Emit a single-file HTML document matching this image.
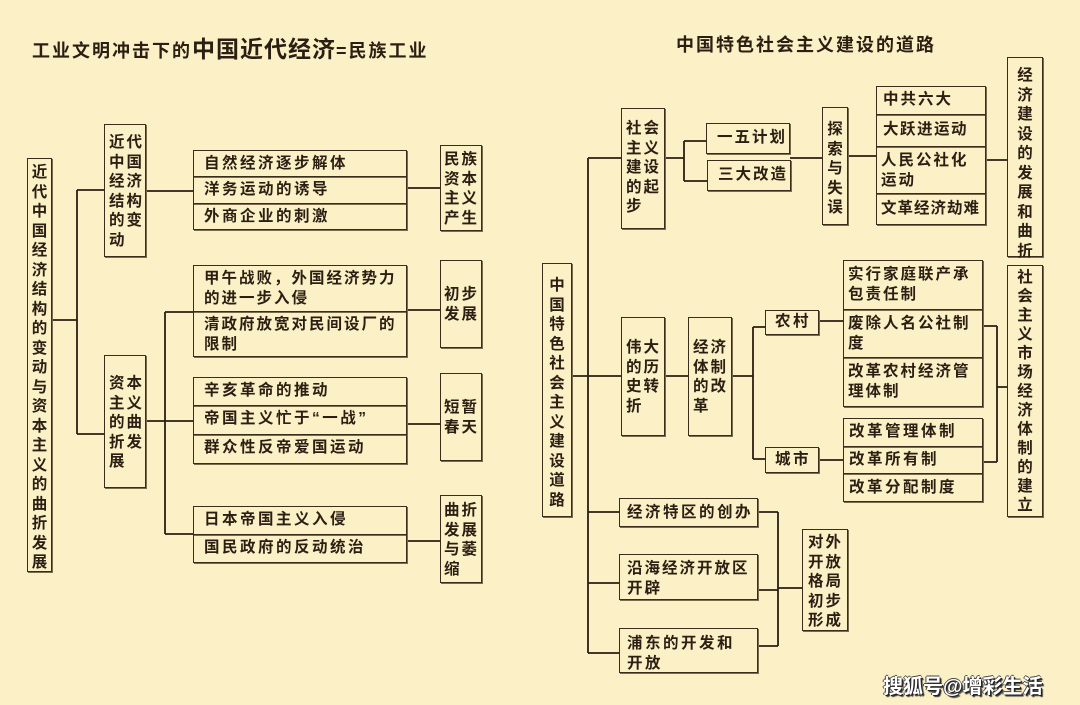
<!DOCTYPE html>
<html><head><meta charset="utf-8"><style>
html,body{margin:0;padding:0}
body{width:1080px;height:705px;background:#fcf0c6;position:relative;overflow:hidden;font-family:"Liberation Sans","Noto Sans CJK SC",sans-serif;color:#2a1f12}
.b{position:absolute;box-sizing:border-box;border:1.5px solid #3b2c1c;box-shadow:1px 1px 0 #7a6a50;font-size:15.5px;font-weight:bold;line-height:19.5px;letter-spacing:2px;white-space:nowrap}
.h{padding:3px 0 0 10px;letter-spacing:2.5px}
.v{text-align:center;letter-spacing:0;padding-top:6px}
.t{position:absolute;font-weight:bold;white-space:nowrap}
svg{position:absolute;left:0;top:0}
</style></head><body>
<svg width="1080" height="705" stroke="#2a1f12" fill="none" stroke-width="1.8">
<path d="M51 320H77M77 190V434M77 190H104M77 434H104"/>
<path d="M145 191H193"/>
<path d="M145 421H165M165 312V534M165 312H193M165 421H193M165 534H193"/>
<path d="M406 188H440M406 310H440M406 424H440M406 541H440"/>
<path d="M572 376H621M588 158V653M588 158H621M588 512H619M588 583H619M588 653H619"/>
<path d="M665 158H684M684 141V181M684 141H706M684 181H707"/>
<path d="M790 158H822M847 156H876M985 160H1007"/>
<path d="M665 376H688M732 376H753M753 327V459M753 327H765M753 459H765"/>
<path d="M818 321H843M818 460H843"/>
<path d="M982 326H997M997 326V462M982 462H997M997 387H1007"/>
<path d="M757 512H778M757 590H778M757 646H778M778 512V646M778 588H802"/>
</svg>

<div class="t" style="left:32px;top:30px;font-size:18px;letter-spacing:2px">工业文明冲击下的<span style="font-size:23px;letter-spacing:1px">中国近代经济</span>=民族工业</div>
<div class="t" style="left:676px;top:31px;font-size:18px;letter-spacing:2px">中国特色社会主义建设的道路</div>

<div class="b v" style="left:27px;top:158px;width:25px;height:414px;padding-top:4px">近<br>代<br>中<br>国<br>经<br>济<br>结<br>构<br>的<br>变<br>动<br>与<br>资<br>本<br>主<br>义<br>的<br>曲<br>折<br>发<br>展</div>
<div class="b" style="left:104px;top:124px;width:42px;height:133px;padding:8px 0 0 4px">近代<br>中国<br>经济<br>结构<br>的变<br>动</div>
<div class="b" style="left:104px;top:355px;width:42px;height:133px;padding:18px 0 0 4px">资本<br>主义<br>的曲<br>折发<br>展</div>

<div class="b h" style="left:193px;top:150px;width:214px;height:27px">自然经济逐步解体</div>
<div class="b h" style="left:193px;top:176px;width:214px;height:28px">洋务运动的诱导</div>
<div class="b h" style="left:193px;top:203px;width:214px;height:27px">外商企业的刺激</div>
<div class="b" style="left:440px;top:145px;width:42px;height:86px;padding:4px 0 0 3px">民族<br>资本<br>主义<br>产生</div>

<div class="b h" style="left:193px;top:265px;width:214px;height:47px;padding-top:3px;letter-spacing:2px">甲午战败，外国经济势力<br>的进一步入侵</div>
<div class="b h" style="left:193px;top:311px;width:214px;height:46px;padding-top:3px;letter-spacing:2px">清政府放宽对民间设厂的<br>限制</div>
<div class="b" style="left:440px;top:260px;width:42px;height:88px;padding:24px 0 0 3px">初步<br>发展</div>

<div class="b h" style="left:193px;top:377px;width:214px;height:29px">辛亥革命的推动</div>
<div class="b h" style="left:193px;top:405px;width:214px;height:30px">帝国主义忙于“一战”</div>
<div class="b h" style="left:193px;top:434px;width:214px;height:30px">群众性反帝爱国运动</div>
<div class="b" style="left:440px;top:373px;width:42px;height:88px;padding:24px 0 0 3px">短暂<br>春天</div>

<div class="b h" style="left:193px;top:506px;width:214px;height:29px">日本帝国主义入侵</div>
<div class="b h" style="left:193px;top:534px;width:214px;height:29px">国民政府的反动统治</div>
<div class="b" style="left:440px;top:495px;width:42px;height:88px;padding:5px 0 0 3px">曲折<br>发展<br>与萎<br>缩</div>

<div class="b v" style="left:542px;top:263px;width:30px;height:254px;padding-top:12px">中<br>国<br>特<br>色<br>社<br>会<br>主<br>义<br>建<br>设<br>道<br>路</div>
<div class="b" style="left:621px;top:108px;width:44px;height:121px;padding:10px 0 0 4px">社会<br>主义<br>建设<br>的起<br>步</div>
<div class="b h" style="left:706px;top:123px;width:84px;height:31px;padding:4px 0 0 10px;letter-spacing:2px">一五计划</div>
<div class="b h" style="left:707px;top:160px;width:84px;height:31px;padding:4px 0 0 10px;letter-spacing:2px">三大改造</div>
<div class="b v" style="left:822px;top:107px;width:26px;height:118px;padding-top:12px">探<br>索<br>与<br>失<br>误</div>
<div class="b h" style="left:876px;top:86px;width:110px;height:29px;padding-left:6px;letter-spacing:2px">中共六大</div>
<div class="b h" style="left:876px;top:114px;width:110px;height:33px;padding:5px 0 0 6px;letter-spacing:1.5px">大跃进运动</div>
<div class="b h" style="left:876px;top:146px;width:110px;height:48px;padding:4px 0 0 4px;letter-spacing:2px">人民公社化<br>运动</div>
<div class="b h" style="left:876px;top:193px;width:110px;height:32px;padding:5px 0 0 4px;letter-spacing:1px">文革经济劫难</div>
<div class="b v" style="left:1007px;top:57px;width:36px;height:200px;padding-top:8px">经<br>济<br>建<br>设<br>的<br>发<br>展<br>和<br>曲<br>折</div>

<div class="b" style="left:621px;top:317px;width:44px;height:119px;padding:20px 0 0 4px">伟大<br>的历<br>史转<br>折</div>
<div class="b" style="left:688px;top:317px;width:44px;height:119px;padding:20px 0 0 4px">经济<br>体制<br>的改<br>革</div>
<div class="b h" style="left:765px;top:310px;width:54px;height:25px;padding:1px 0 0 9px">农村</div>
<div class="b h" style="left:765px;top:447px;width:54px;height:26px;padding:2px 0 0 9px">城市</div>
<div class="b h" style="left:843px;top:260px;width:140px;height:50px;padding:4px 0 0 4px;letter-spacing:2px">实行家庭联产承<br>包责任制</div>
<div class="b h" style="left:843px;top:309px;width:140px;height:49px;padding:4px 0 0 4px;letter-spacing:2px">废除人名公社制<br>度</div>
<div class="b h" style="left:843px;top:357px;width:140px;height:50px;padding:4px 0 0 4px;letter-spacing:2px">改革农村经济管<br>理体制</div>
<div class="b h" style="left:843px;top:418px;width:140px;height:29px;padding:3px 0 0 5px">改革管理体制</div>
<div class="b h" style="left:843px;top:446px;width:140px;height:28px;padding:3px 0 0 5px">改革所有制</div>
<div class="b h" style="left:843px;top:473px;width:140px;height:29px;padding:4px 0 0 5px">改革分配制度</div>
<div class="b v" style="left:1007px;top:265px;width:36px;height:252px;padding-top:2px;line-height:19px">社<br>会<br>主<br>义<br>市<br>场<br>经<br>济<br>体<br>制<br>的<br>建<br>立</div>

<div class="b h" style="left:619px;top:498px;width:139px;height:29px;padding:4px 0 0 7px">经济特区的创办</div>
<div class="b h" style="left:619px;top:554px;width:139px;height:46px;padding:4px 0 0 7px;letter-spacing:2px">沿海经济开放区<br>开辟</div>
<div class="b h" style="left:619px;top:628px;width:139px;height:45px;padding:5px 0 0 7px">浦东的开发和<br>开放</div>
<div class="b" style="left:802px;top:529px;width:46px;height:102px;padding:3px 0 0 5px">对外<br>开放<br>格局<br>初步<br>形成</div>

<div class="t" style="left:883px;top:670px;font-size:20px;color:#fff;letter-spacing:0;text-shadow:1px 1px 0 #222,-1px 0 0 #444,0 -1px 0 #444,2px 2px 1px #333">搜狐号@增彩生活</div>
</body></html>
